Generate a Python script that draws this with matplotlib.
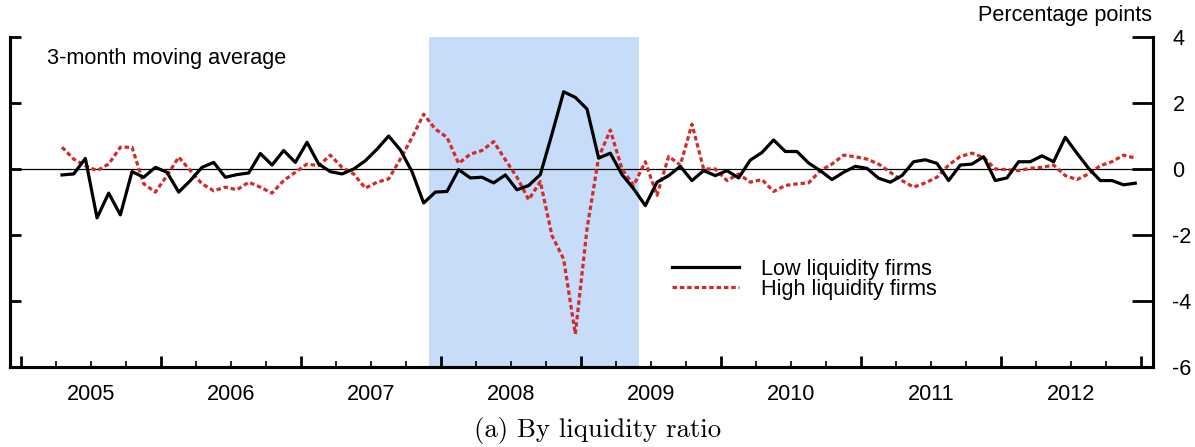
import numpy as np
import matplotlib.pyplot as plt

plt.rcParams['font.family'] = ['Liberation Sans', 'DejaVu Sans']

# monthly 3-month moving averages, Apr 2005 - Dec 2012
low_liq = [-0.18, -0.15, 0.32, -1.48, -0.73, -1.39, -0.08, -0.25, 0.05,
           -0.10, -0.70, -0.35, 0.05, 0.20, -0.25, -0.17, -0.12, 0.47, 0.12,
           0.56, 0.20, 0.81, 0.15, -0.08, -0.15, 0.00, 0.25, 0.60, 1.00,
           0.58, -0.08, -1.03, -0.70, -0.68, -0.02, -0.27, -0.25, -0.42,
           -0.18, -0.63, -0.50, -0.17, 1.06, 2.34, 2.17, 1.82, 0.33, 0.48,
           -0.17, -0.60, -1.11, -0.40, -0.20, 0.08, -0.35, -0.05, -0.20,
           -0.05, -0.27, 0.27, 0.50, 0.88, 0.53, 0.53, 0.18, -0.05, -0.32,
           -0.10, 0.08, 0.02, -0.28, -0.40, -0.20, 0.22, 0.28, 0.17, -0.35,
           0.12, 0.15, 0.37, -0.35, -0.27, 0.22, 0.22, 0.40, 0.22, 0.96,
           0.48, 0.02, -0.35, -0.35, -0.48, -0.43]
high_liq = [0.66, 0.30, 0.10, -0.05, 0.15, 0.66, 0.66, -0.45, -0.70,
            -0.20, 0.36, -0.05, -0.45, -0.66, -0.55, -0.63, -0.40, -0.55,
            -0.73, -0.35, -0.10, 0.15, 0.10, 0.42, 0.05, -0.15, -0.58, -0.40,
            -0.30, 0.30, 0.95, 1.66, 1.21, 0.96, 0.17, 0.45, 0.56, 0.83,
            0.28, -0.25, -0.93, -0.38, -2.02, -2.73, -5.00, -1.82, 0.35, 1.18,
            0.00, -0.50, 0.22, -0.80, 0.38, 0.12, 1.36, 0.00, 0.00, -0.35,
            -0.15, -0.40, -0.32, -0.68, -0.50, -0.45, -0.42, -0.05, 0.15,
            0.42, 0.37, 0.30, 0.15, -0.10, -0.35, -0.55, -0.42, -0.25, 0.12,
            0.38, 0.48, 0.35, 0.00, -0.02, -0.05, 0.02, 0.05, 0.12, -0.20,
            -0.32, -0.15, 0.10, 0.22, 0.42, 0.33]
start_year, start_month = 2005, 4
recession = (2007 + 11 / 12, 2009 + 5 / 12)
years = list(range(2005, 2013))

months = np.arange(len(low_liq)) + (start_month - 1)
x = start_year + (months + 0.5) / 12

fs = 15.6

fig = plt.figure(figsize=(11.95, 4.47), dpi=100)
ax = fig.add_axes([10 / 1195, 80 / 447, 1143 / 1195, 330 / 447])
ax2 = ax.twinx()

ax.axvspan(*recession, color='#c6dcf8', lw=0, zorder=0)
ax.axhline(0, color='black', lw=0.9, zorder=1)
ax.plot(x, low_liq, color='black', lw=2.3, label='Low liquidity firms', zorder=3)
ax.plot(x, high_liq, color='#d42a2a', lw=2.3, ls=(0, (1.4, 0.9)),
        label='High liquidity firms', zorder=2)

ax.set_xlim(2004.92, 2013.085)
for a in (ax, ax2):
    a.set_ylim(-6, 4)
    a.set_yticks(range(-6, 5, 2))
    a.spines['top'].set_visible(False)
    for s in ('left', 'right', 'bottom'):
        a.spines[s].set_linewidth(2.2)

ax.tick_params(axis='y', direction='in', length=8, width=2, labelleft=False,
               right=False)
ax2.tick_params(axis='y', direction='in', length=15, width=2, pad=14,
                labelsize=fs)
ax2.set_yticklabels([str(v) for v in range(-6, 5, 2)])

ax.set_xticks(list(range(2005, 2014)), labels=[''] * 9)
quarters = [y + q / 4 for y in years for q in (1, 2, 3)]
ax.set_xticks(quarters, labels=[str(int(q)) if abs(q % 1 - 0.5) < 1e-6 else ''
                                for q in quarters], minor=True)
ax.tick_params(axis='x', which='major', direction='in', length=8, width=2)
ax.tick_params(axis='x', which='minor', direction='in', length=4, width=1.2,
               pad=12, labelsize=fs)

ax.text(0.0325, 0.935, '3-month moving average', transform=ax.transAxes,
        fontsize=fs, va='center', ha='left')
fig.text(1152 / 1195, 1 - 16 / 447, 'Percentage points', fontsize=fs,
         ha='right', va='center')

ax.legend(loc='upper left', bbox_to_anchor=((672 - 10) / 1143, (367 - 259) / 330),
          frameon=False, fontsize=fs, handlelength=3.1, handletextpad=1.0,
          labelspacing=-0.05, borderaxespad=0, borderpad=0)

fig.text(0.5, 1 - 430 / 447, '(a) By liquidity ratio', family='cmr10',
         fontsize=19.3, ha='center', va='center')

fig.savefig('out.png', dpi=100)
